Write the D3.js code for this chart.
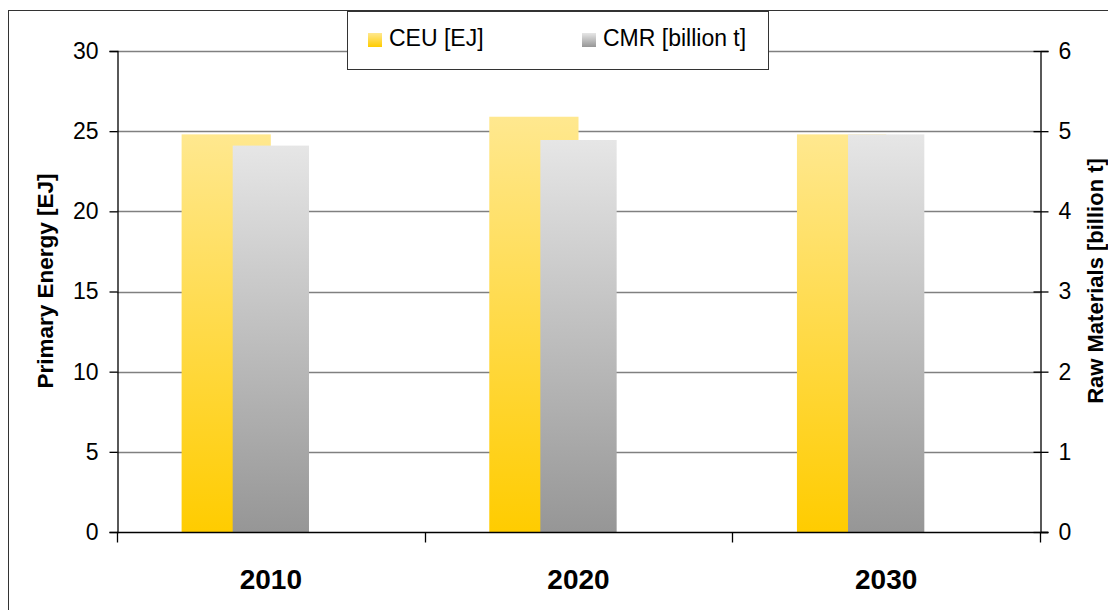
<!DOCTYPE html>
<html>
<head>
<meta charset="utf-8">
<script src="https://cdn.jsdelivr.net/npm/d3@7"></script>
<style>
  body { margin: 0; background: #fff; }
  text { font-family: "Liberation Sans", Arial, sans-serif; }
</style>
</head>
<body>
<script>
var width = 1108,
    height = 610;

var years = ["2010", "2020", "2030"],
    ceu = [24.8, 25.9, 24.8],        // primary energy, EJ (left axis)
    cmr = [4.82, 4.89, 4.96],        // raw materials, billion t (right axis)
    leftTicks = [0, 5, 10, 15, 20, 25, 30],
    rightTicks = [0, 1, 2, 3, 4, 5, 6];

var plot = {left: 117, right: 1040, top: 51, bottom: 532};

var svg = d3.select("body").append("svg")
    .attr("width", width)
    .attr("height", height);

var defs = svg.append("defs");

function gradient(id, top, bottom) {
    var g = defs.append("linearGradient")
        .attr("id", id)
        .attr("x1", 0).attr("y1", 0)
        .attr("x2", 0).attr("y2", 1);
    g.append("stop").attr("offset", "0%").attr("stop-color", top);
    g.append("stop").attr("offset", "100%").attr("stop-color", bottom);
}
gradient("gYellow", "#ffe88f", "#ffcc00");
gradient("gGray", "#e6e6e6", "#969696");

// chart area border
svg.append("rect")
    .attr("x", 8.5).attr("y", 10.5)
    .attr("width", width + 20).attr("height", height + 20)
    .attr("fill", "#fff")
    .attr("stroke", "#333");

var x = d3.scaleBand()
    .domain(years)
    .range([plot.left, plot.right]);

var yL = d3.scaleLinear().domain([0, 30]).range([plot.bottom, plot.top]);
var yR = d3.scaleLinear().domain([0, 6]).range([plot.bottom, plot.top]);

// gridlines
svg.append("g")
    .selectAll("line")
    .data(leftTicks.filter(function(d) { return d > 0; }))
    .enter().append("line")
    .attr("x1", plot.left).attr("x2", plot.right)
    .attr("y1", function(d) { return Math.round(yL(d)) + 0.5; })
    .attr("y2", function(d) { return Math.round(yL(d)) + 0.5; })
    .attr("stroke", "#808080")
    .attr("stroke-width", 1.3);

var bw = x.bandwidth();

// CEU bars (behind)
svg.append("g")
    .selectAll("rect")
    .data(ceu)
    .enter().append("rect")
    .attr("x", function(d, i) { return x(years[i]) + bw * 0.21; })
    .attr("width", bw * 0.29)
    .attr("y", function(d) { return yL(d); })
    .attr("height", function(d) { return yL(0) - yL(d); })
    .attr("fill", "url(#gYellow)");

// CMR bars (front)
svg.append("g")
    .selectAll("rect")
    .data(cmr)
    .enter().append("rect")
    .attr("x", function(d, i) { return x(years[i]) + bw * 0.376; })
    .attr("width", bw * 0.248)
    .attr("y", function(d) { return yR(d); })
    .attr("height", function(d) { return yR(0) - yR(d); })
    .attr("fill", "url(#gGray)");

// left axis
var leftAxis = svg.append("g")
    .attr("transform", "translate(" + (plot.left + 0.5) + ",0)")
    .call(d3.axisLeft(yL).tickValues(leftTicks).tickSize(8).tickPadding(11));

// right axis
var rightAxis = svg.append("g")
    .attr("transform", "translate(" + (plot.right + 0.5) + ",0)")
    .call(d3.axisRight(yR).tickValues(rightTicks).tickFormat(d3.format("d"))
        .tickSize(8).tickPadding(10));
rightAxis.selectAll(".tick line").attr("x1", -7);

[leftAxis, rightAxis].forEach(function(a) {
    a.select(".domain").attr("stroke", "#000").attr("stroke-width", 1.3);
    a.selectAll(".tick line").attr("stroke", "#000").attr("stroke-width", 1.3);
    a.selectAll(".tick text")
        .attr("font-size", 23)
        .attr("fill", "#000")
        .style("font-family", "'Liberation Sans', Arial, sans-serif");
});

// bottom axis
var bottomAxis = svg.append("g")
    .attr("transform", "translate(0," + (plot.bottom + 0.5) + ")");
bottomAxis.append("line")
    .attr("x1", plot.left).attr("x2", plot.right + 8)
    .attr("stroke", "#000").attr("stroke-width", 1.3);
bottomAxis.selectAll(".sep")
    .data(years.concat(["end"]))
    .enter().append("line")
    .attr("class", "sep")
    .attr("x1", function(d, i) { return Math.round(plot.left + i * bw) + 0.5; })
    .attr("x2", function(d, i) { return Math.round(plot.left + i * bw) + 0.5; })
    .attr("y1", 0).attr("y2", 10)
    .attr("stroke", "#000").attr("stroke-width", 1.3);
bottomAxis.selectAll(".lab")
    .data(years)
    .enter().append("text")
    .attr("class", "lab")
    .attr("x", function(d) { return x(d) + bw / 2; })
    .attr("y", 56)
    .attr("text-anchor", "middle")
    .attr("font-size", 28)
    .attr("font-weight", "bold")
    .text(function(d) { return d; });

// axis titles
svg.append("text")
    .attr("transform", "translate(53,281) rotate(-90)")
    .attr("text-anchor", "middle")
    .attr("font-size", 22.5)
    .attr("font-weight", "bold")
    .text("Primary Energy [EJ]");

svg.append("text")
    .attr("transform", "translate(1103,281) rotate(-90)")
    .attr("text-anchor", "middle")
    .attr("font-size", 22)
    .attr("font-weight", "bold")
    .text("Raw Materials [billion t]");

// legend
var legend = svg.append("g");
legend.append("rect")
    .attr("x", 347.5).attr("y", 11.5)
    .attr("width", 421).attr("height", 58)
    .attr("fill", "#fff")
    .attr("stroke", "#333");

var legendItems = [
    {label: "CEU [EJ]", fill: "url(#gYellow)", x: 368},
    {label: "CMR [billion t]", fill: "url(#gGray)", x: 582}
];
var li = legend.selectAll(".item")
    .data(legendItems)
    .enter().append("g")
    .attr("class", "item")
    .attr("transform", function(d) { return "translate(" + d.x + ",0)"; });
li.append("rect")
    .attr("y", 33).attr("width", 14).attr("height", 14)
    .attr("fill", function(d) { return d.fill; });
li.append("text")
    .attr("x", 21).attr("y", 46)
    .attr("font-size", 23)
    .text(function(d) { return d.label; });
</script>
</body>
</html>
